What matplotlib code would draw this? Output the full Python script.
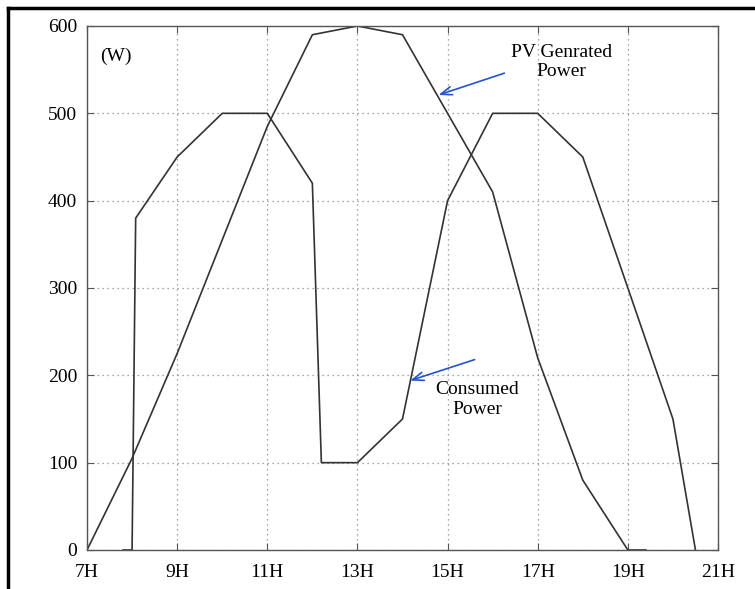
import numpy as np
import matplotlib.pyplot as plt
from matplotlib.lines import Line2D

plt.rcParams['font.family'] = ['Liberation Serif', 'DejaVu Serif']

# hours of the day and power (W)
pv_hour = [7, 8, 9, 10, 11, 12, 13, 14, 15, 16, 17, 18, 19, 19.4]
pv_power = [0, 105, 225, 355, 485, 590, 600, 590, 500, 410, 220, 80, 0, 0]

load_hour = [7.8, 8, 8.08, 9, 10, 11, 12, 12.2, 13, 14, 15, 16, 17, 18, 19, 20, 20.5]
load_power = [0, 0, 380, 450, 500, 500, 420, 100, 100, 150, 400, 500, 500, 450, 300, 150, 0]

xticks = [7, 9, 11, 13, 15, 17, 19, 21]
xlabels = ['7H', '9H', '11H', '13H', '15H', '17H', '19H', '21H']
yticks = [0, 100, 200, 300, 400, 500, 600]

fig = plt.figure(figsize=(7.55, 5.89), dpi=100)
ax = fig.add_axes([87/755, 39/589, 631/755, 524/589])

ax.plot(pv_hour, pv_power, color='#333333', lw=1.2)
ax.plot(load_hour, load_power, color='#333333', lw=1.2)

ax.set_xlim(7, 21)
ax.set_ylim(0, 600)
ax.set_xticks(xticks)
ax.set_xticklabels(xlabels)
ax.set_yticks(yticks)
ax.tick_params(direction='in', length=5, color='#555555', labelsize=14,
               top=True, right=True)
ax.tick_params(axis='x', pad=10)
ax.tick_params(axis='y', pad=7)
ax.grid(True, color='#888888', linestyle=(0, (1, 3)), lw=0.9)
for s in ax.spines.values():
    s.set_color('#555555')
    s.set_linewidth(1.0)

ax.text(7.3, 565, '(W)', fontsize=14, va='center', ha='left')
ax.text(17.52, 559, 'PV Genrated\nPower', fontsize=14, ha='center', va='center',
        linespacing=1.2)
ax.text(15.66, 172, 'Consumed\nPower', fontsize=14, ha='center', va='center',
        linespacing=1.2)

arrow = dict(arrowstyle='->,head_length=0.8,head_width=0.3', color='#2255cc',
             lw=1.2, shrinkA=0, shrinkB=0)
ax.annotate('', xy=(14.80, 521), xytext=(16.26, 546), arrowprops=arrow)
ax.annotate('', xy=(14.17, 194), xytext=(15.60, 218), arrowprops=arrow)

# frame of the cropped figure (top and left edges)
fig.add_artist(Line2D([8/755, 8/755], [0, 1 - 8/589], color='black', lw=2.5,
                      transform=fig.transFigure))
fig.add_artist(Line2D([8/755, 1], [1 - 8/589, 1 - 8/589], color='black', lw=2.5,
                      transform=fig.transFigure))

fig.savefig('out.png', dpi=100)
